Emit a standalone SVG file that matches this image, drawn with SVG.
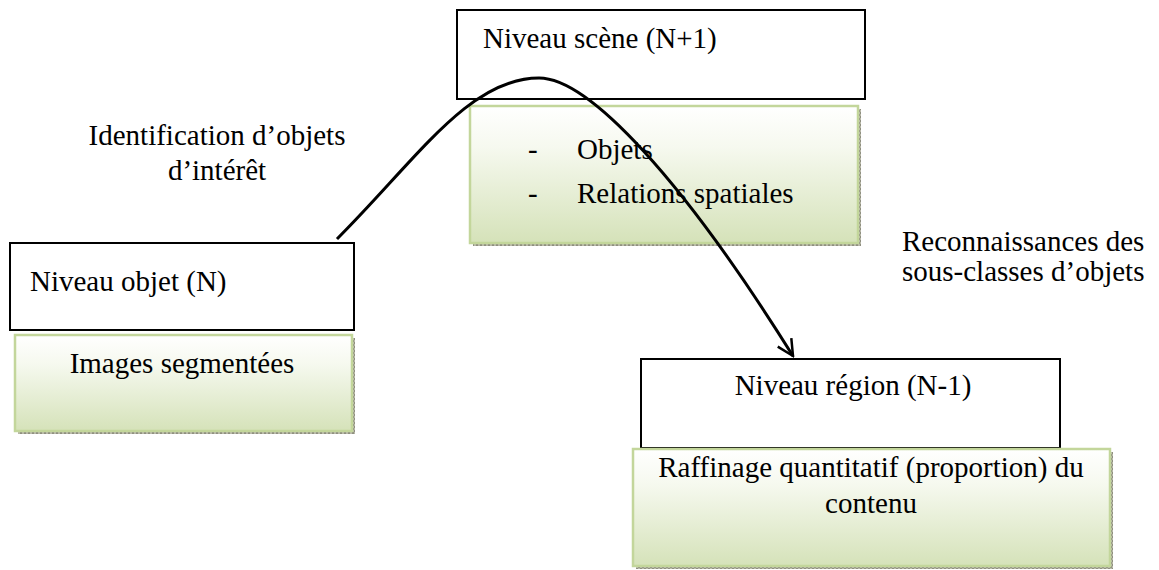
<svg xmlns="http://www.w3.org/2000/svg" width="1159" height="570" viewBox="0 0 1159 570">
<defs>
<linearGradient id="g" x1="0" y1="0" x2="0" y2="1">
<stop offset="0" stop-color="#ffffff"/>
<stop offset="0.3" stop-color="#f6f9ef"/>
<stop offset="1" stop-color="#d5e2b9"/>
</linearGradient>
<pattern id="sh" width="4" height="4" patternUnits="userSpaceOnUse">
<rect width="4" height="4" fill="#b8b8a8"/>
<rect width="2" height="2" fill="#8f8f80"/>
<rect x="2" y="2" width="2" height="2" fill="#8f8f80"/>
</pattern>
<marker id="arr" viewBox="0 0 20 20" refX="18" refY="10" markerWidth="20" markerHeight="20" markerUnits="userSpaceOnUse" orient="auto">
<path d="M2,2 L18,10 L2,18" fill="none" stroke="#000" stroke-width="2.5"/>
</marker>
</defs>
<style>
text{font-family:"Liberation Serif","Times New Roman",serif;font-size:29px;fill:#000}
.box{fill:#fff;stroke:#000;stroke-width:2}
.gbox{fill:url(#g);stroke:#c3d69b;stroke-width:2.5}
.shadow{fill:url(#sh)}
.mid{text-anchor:middle}
.conn{fill:none;stroke:#000;stroke-width:3}
</style>
<rect width="1159" height="570" fill="#fff"/>

<g id="scene">
<rect class="box" x="457" y="10" width="408" height="89"/>
<text x="483" y="48">Niveau scène (N+1)</text>
</g>
<g id="scene-content">
<rect class="shadow" x="473" y="109" width="388" height="137"/>
<rect class="gbox" x="470" y="106" width="388" height="137"/>
<text x="528" y="159">-</text>
<text x="577" y="159">Objets</text>
<text x="528" y="203">-</text>
<text x="577" y="203">Relations spatiales</text>
</g>

<g id="objet">
<rect class="box" x="10" y="243" width="344" height="87"/>
<text x="30" y="291">Niveau objet (N)</text>
</g>
<g id="objet-content">
<rect class="shadow" x="18" y="338" width="337" height="96"/>
<rect class="gbox" x="15" y="335" width="337" height="96"/>
<text class="mid" x="182" y="373">Images segmentées</text>
</g>

<g id="region">
<rect class="box" x="641" y="359" width="419" height="89"/>
<text class="mid" x="853" y="395">Niveau région (N-1)</text>
</g>
<g id="region-content">
<rect class="shadow" x="636" y="452" width="477" height="117"/>
<rect class="gbox" x="633" y="449" width="477" height="117"/>
<text class="mid" x="871" y="477">Raffinage quantitatif (proportion) du</text>
<text class="mid" x="871" y="513">contenu</text>
</g>

<g id="labels">
<text class="mid" x="217" y="145">Identification d’objets</text>
<text class="mid" x="217" y="180">d’intérêt</text>
<text x="902" y="251">Reconnaissances des</text>
<text x="902" y="281">sous-classes d’objets</text>
</g>

<g id="connectors">
<path class="conn" d="M337,239 C417,159 469,78 539,78 C589,78 683,180 793,356" marker-end="url(#arr)"/>
</g>
</svg>
